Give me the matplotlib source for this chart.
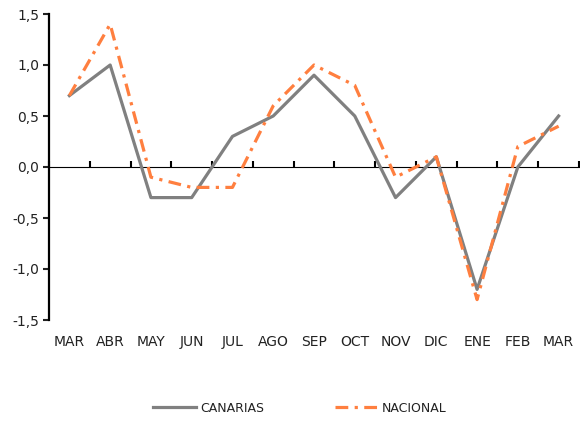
import matplotlib
matplotlib.use("Agg")
import matplotlib.pyplot as plt
import numpy as np

months = ["MAR", "ABR", "MAY", "JUN", "JUL", "AGO", "SEP", "OCT", "NOV", "DIC", "ENE", "FEB", "MAR"]
canarias = [0.7, 1.0, -0.3, -0.3, 0.3, 0.5, 0.9, 0.5, -0.3, 0.1, -1.2, 0.0, 0.5]
nacional = [0.7, 1.4, -0.1, -0.2, -0.2, 0.6, 1.0, 0.8, -0.1, 0.1, -1.3, 0.2, 0.4]
yticks = [-1.5, -1.0, -0.5, 0.0, 0.5, 1.0, 1.5]

plt.rcParams['font.family'] = ['DejaVu Sans']

fig = plt.figure(figsize=(5.80, 4.21), dpi=100)
ax = fig.add_axes([49/580, 1 - 320/421, 530/580, (320 - 14)/421])

x = np.arange(len(months))
ax.plot(x, canarias, color="#808080", lw=2.3, label="CANARIAS", zorder=3)
ax.plot(x, nacional, color="#FF7F3F", lw=2.3, linestyle=(0, (4.0, 2.0, 1.0, 2.0)),
        label="NACIONAL", zorder=4)

ax.set_xlim(-0.5, len(months) - 0.5)
ax.set_ylim(-1.5, 1.5)
ax.set_yticks(yticks)
ax.set_yticklabels([f"{v:.1f}".replace(".", ",") for v in yticks], fontsize=10)
ax.tick_params(axis="y", direction="out", length=4, width=1.5, pad=3, colors="#222222")

ax.set_xticks(x)
ax.set_xticklabels(months, fontsize=10)
ax.tick_params(axis="x", length=0, pad=11, colors="#222222")

for s in ["top", "right", "bottom"]:
    ax.spines[s].set_visible(False)
ax.spines["left"].set_linewidth(1.6)

sec = ax.secondary_xaxis(0.5)
sec.set_xticks(np.arange(len(months) + 1) - 0.5)
sec.set_xticklabels([])
sec.tick_params(axis="x", direction="out", length=4, width=1.5)
sec.spines["bottom"].set_linewidth(1.6)

fig.legend(loc="center", bbox_to_anchor=(300/580, 1 - 408/421), ncol=2, frameon=False,
           fontsize=9, handlelength=3.45, handletextpad=0.3, columnspacing=5.7,
           labelcolor="#222222")

fig.savefig("out.png", dpi=100)
